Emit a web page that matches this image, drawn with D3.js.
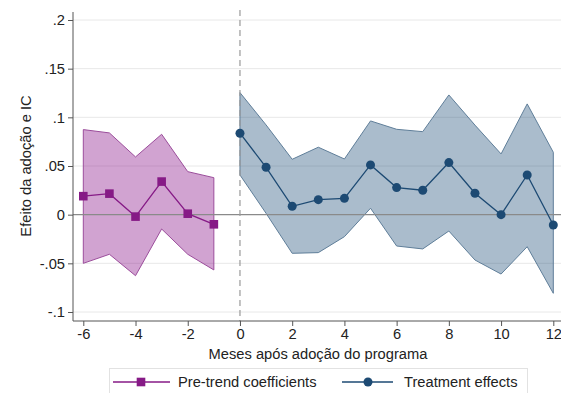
<!DOCTYPE html>
<html>
<head>
<meta charset="utf-8">
<script src="https://cdn.jsdelivr.net/npm/d3@7"></script>
<style>
  html, body { margin: 0; padding: 0; background: #fff; }
  svg { display: block; font-family: "Liberation Sans", Arial, sans-serif; }
</style>
</head>
<body>
<svg id="chart" width="561" height="393"></svg>
<script>
// Event-study estimates: months relative to programme adoption
const preMonths = [-6, -5, -4, -3, -2, -1];
const preCoef   = [0.019, 0.0216, -0.002, 0.034, 0.001, -0.0099];
const preUpper  = [0.0874, 0.084, 0.0593, 0.0826, 0.0442, 0.038];
const preLower  = [-0.050, -0.0407, -0.0627, -0.0147, -0.0407, -0.0568];

const postMonths = [0, 1, 2, 3, 4, 5, 6, 7, 8, 9, 10, 11, 12];
const postCoef   = [0.0837, 0.0487, 0.0086, 0.0154, 0.0168, 0.0511, 0.0278, 0.0251, 0.0535, 0.022, 0.000, 0.0408, -0.0106];
const postUpper  = [0.1254, 0.0922, 0.0569, 0.0693, 0.0572, 0.0963, 0.0877, 0.0853, 0.123, 0.092, 0.0624, 0.1138, 0.0641];
const postLower  = [0.0408, 0.0014, -0.0397, -0.039, -0.0226, 0.0066, -0.0322, -0.0352, -0.0168, -0.0466, -0.061, -0.0329, -0.0808];

const yTicks = [-0.1, -0.05, 0, 0.05, 0.1, 0.15, 0.2];
const yTickLabels = ["-.1", "-.05", "0", ".05", ".1", ".15", ".2"];
const xTicks = [-6, -4, -2, 0, 2, 4, 6, 8, 10, 12];

const yTitle = "Efeito da adoção e IC";
const xTitle = "Meses após adoção do programa";
const legendLabels = ["Pre-trend coefficients", "Treatment effects"];

const purple = "#861a86";
const navy = "#1d4a73";
const fontSize = 14.7;

const svg = d3.select("#chart");

const x = d3.scaleLinear().domain([-6, 12]).range([83.3, 553.3]);
const y = d3.scaleLinear().domain([-0.1, 0.2]).range([312, 20]);

const plotLeft = 73, plotRight = 561, plotTop = 10, plotBottom = 321;

// horizontal grid
svg.append("g").selectAll("line").data(yTicks.filter(d => d !== 0)).join("line")
  .attr("x1", plotLeft).attr("x2", plotRight)
  .attr("y1", d => y(d)).attr("y2", d => y(d))
  .attr("stroke", "#e8e8e8").attr("stroke-width", 1);

// confidence bands
const band = (months, lo, hi) => d3.area()
  .x((d, i) => x(months[i]))
  .y0((d, i) => y(lo[i]))
  .y1((d, i) => y(hi[i]))(months);

svg.append("path").attr("d", band(preMonths, preLower, preUpper))
  .attr("fill", "#8c1a8c").attr("fill-opacity", 0.4)
  .attr("stroke", "#9b4d9b").attr("stroke-width", 1);

svg.append("path").attr("d", band(postMonths, postLower, postUpper))
  .attr("fill", "#1f4e79").attr("fill-opacity", 0.38)
  .attr("stroke", "#5f7e99").attr("stroke-width", 1);

// zero reference line
svg.append("line")
  .attr("x1", plotLeft).attr("x2", plotRight)
  .attr("y1", y(0)).attr("y2", y(0))
  .attr("stroke", "#8a8a8a").attr("stroke-width", 1.2);

// adoption month marker
svg.append("line")
  .attr("x1", x(0)).attr("x2", x(0))
  .attr("y1", plotTop).attr("y2", plotBottom)
  .attr("stroke", "#9a9a9a").attr("stroke-width", 1.2)
  .attr("stroke-dasharray", "6,4");

// coefficient lines
const line = (months, vals) => d3.line().x((d, i) => x(months[i])).y((d, i) => y(vals[i]))(months);

svg.append("path").attr("d", line(preMonths, preCoef))
  .attr("fill", "none").attr("stroke", purple).attr("stroke-width", 1.3);
svg.append("g").selectAll("rect").data(preMonths).join("rect")
  .attr("x", (d, i) => x(d) - 4.3).attr("y", (d, i) => y(preCoef[i]) - 4.3)
  .attr("width", 8.6).attr("height", 8.6).attr("fill", purple);

svg.append("path").attr("d", line(postMonths, postCoef))
  .attr("fill", "none").attr("stroke", navy).attr("stroke-width", 1.3);
svg.append("g").selectAll("circle").data(postMonths).join("circle")
  .attr("cx", d => x(d)).attr("cy", (d, i) => y(postCoef[i]))
  .attr("r", 4.5).attr("fill", navy);

// axes
const yAxis = svg.append("g").attr("transform", `translate(${plotLeft},0)`);
yAxis.append("line").attr("x1", 0).attr("x2", 0).attr("y1", 12).attr("y2", plotBottom)
  .attr("stroke", "#555").attr("stroke-width", 1);
yAxis.call(g => {
  const ax = d3.axisLeft(y).tickValues(yTicks).tickSize(5).tickPadding(3)
    .tickFormat((d, i) => yTickLabels[i]);
  g.call(ax);
  g.select(".domain").remove();
  g.selectAll(".tick line").attr("stroke", "#555");
  g.selectAll(".tick text").attr("font-size", fontSize).attr("fill", "#222")
    .attr("font-family", "Liberation Sans, Arial, sans-serif");
});

const xAxis = svg.append("g").attr("transform", `translate(0,${plotBottom})`);
xAxis.append("line").attr("x1", plotLeft).attr("x2", plotRight).attr("y1", 0).attr("y2", 0)
  .attr("stroke", "#555").attr("stroke-width", 1);
xAxis.call(g => {
  const ax = d3.axisBottom(x).tickValues(xTicks).tickSize(5).tickPadding(3).tickFormat(d => String(d));
  g.call(ax);
  g.select(".domain").remove();
  g.selectAll(".tick line").attr("stroke", "#555");
  g.selectAll(".tick text").attr("font-size", fontSize).attr("fill", "#222")
    .attr("font-family", "Liberation Sans, Arial, sans-serif");
});

// titles
svg.append("text").attr("x", 318).attr("y", 359)
  .attr("text-anchor", "middle").attr("font-size", fontSize).attr("fill", "#222").text(xTitle);
svg.append("text").attr("transform", `translate(31,${y(0.05)}) rotate(-90)`)
  .attr("text-anchor", "middle").attr("font-size", fontSize).attr("fill", "#222").text(yTitle);

// legend
const lg = svg.append("g");
lg.append("rect").attr("x", 109.5).attr("y", 368.5).attr("width", 418).attr("height", 30)
  .attr("fill", "#fff").attr("stroke", "#e2e2e2");
lg.append("line").attr("x1", 113).attr("x2", 170).attr("y1", 382).attr("y2", 382)
  .attr("stroke", purple).attr("stroke-width", 1.3);
lg.append("rect").attr("x", 141 - 4.3).attr("y", 382 - 4.3).attr("width", 8.6).attr("height", 8.6).attr("fill", purple);
lg.append("text").attr("x", 178).attr("y", 387).attr("font-size", fontSize).attr("fill", "#222").text(legendLabels[0]);
lg.append("line").attr("x1", 342).attr("x2", 393).attr("y1", 382).attr("y2", 382)
  .attr("stroke", navy).attr("stroke-width", 1.3);
lg.append("circle").attr("cx", 368).attr("cy", 382).attr("r", 4.5).attr("fill", navy);
lg.append("text").attr("x", 404).attr("y", 387).attr("font-size", fontSize).attr("fill", "#222").text(legendLabels[1]);
</script>
</body>
</html>
